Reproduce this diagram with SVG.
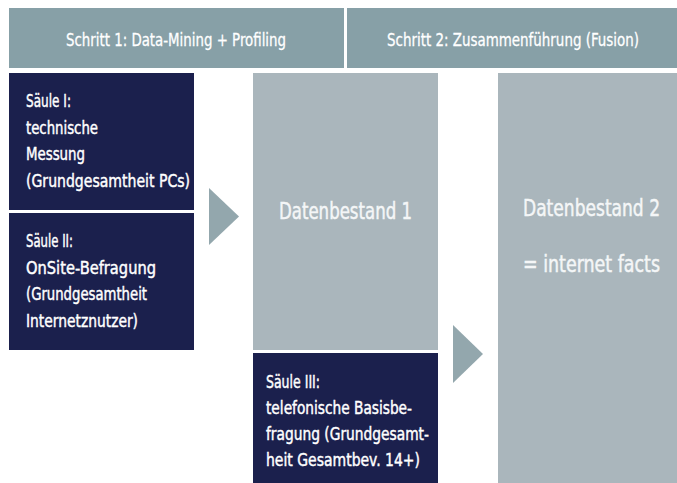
<svg xmlns="http://www.w3.org/2000/svg" width="677" height="483" viewBox="0 0 677 483">
  <style>
    .head { fill: #87a0a7; }
    .pillar { fill: #1b204d; }
    .store { fill: #aab6bc; }
    .arrow { fill: #93a7ad; }
    text { font-family: "DejaVu Sans Condensed", "DejaVu Sans", sans-serif; font-stretch: condensed; fill: #ffffff; stroke: #ffffff; paint-order: stroke; }
    .ht { font-size: 18.5px; stroke-width: 0.3px; }
    .pt { font-size: 18.5px; stroke-width: 0.45px; }
    .st { font-size: 22.5px; fill: #f4f6f7; stroke: #f4f6f7; stroke-width: 0.45px; }
  </style>

  <!-- step headers -->
  <g id="step1">
    <rect class="head" x="9" y="8" width="335" height="60"/>
    <text class="ht" x="66" y="46" textLength="220" lengthAdjust="spacingAndGlyphs">Schritt 1: Data-Mining + Profiling</text>
  </g>
  <g id="step2">
    <rect class="head" x="347" y="8" width="330" height="60"/>
    <text class="ht" transform="matrix(0.85,0,0,1,387,46)" x="0" y="0" textLength="296.5" lengthAdjust="spacingAndGlyphs">Schritt 2: Zusammenführung (Fusion)</text>
  </g>

  <!-- pillar I -->
  <g id="saeule1">
    <rect class="pillar" x="9" y="73" width="185" height="137"/>
    <text class="pt" x="26" y="107" textLength="45" lengthAdjust="spacingAndGlyphs">Säule I:</text>
    <text class="pt" x="26" y="133.5" textLength="72" lengthAdjust="spacingAndGlyphs">technische</text>
    <text class="pt" x="26" y="160" textLength="59" lengthAdjust="spacingAndGlyphs">Messung</text>
    <text class="pt" x="26" y="186.5" textLength="164" lengthAdjust="spacingAndGlyphs">(Grundgesamtheit PCs)</text>
  </g>

  <!-- pillar II -->
  <g id="saeule2">
    <rect class="pillar" x="9" y="213" width="185" height="137"/>
    <text class="pt" x="26" y="247" textLength="47" lengthAdjust="spacingAndGlyphs">Säule II:</text>
    <text class="pt" x="26" y="273.5" textLength="130" lengthAdjust="spacingAndGlyphs">OnSite-Befragung</text>
    <text class="pt" x="26" y="300" textLength="121" lengthAdjust="spacingAndGlyphs">(Grundgesamtheit</text>
    <text class="pt" x="26" y="326.5" textLength="112" lengthAdjust="spacingAndGlyphs">Internetznutzer)</text>
  </g>

  <!-- data set 1 -->
  <g id="datenbestand1">
    <rect class="store" x="253" y="73" width="185" height="277"/>
    <text class="st" x="279" y="219" textLength="133" lengthAdjust="spacingAndGlyphs">Datenbestand 1</text>
  </g>

  <!-- pillar III -->
  <g id="saeule3">
    <rect class="pillar" x="253" y="353" width="185" height="130"/>
    <text class="pt" x="266" y="387.5" textLength="54" lengthAdjust="spacingAndGlyphs">Säule III:</text>
    <text class="pt" x="266" y="413.5" textLength="146" lengthAdjust="spacingAndGlyphs">telefonische Basisbe-</text>
    <text class="pt" x="266" y="440" textLength="163" lengthAdjust="spacingAndGlyphs">fragung (Grundgesamt-</text>
    <text class="pt" x="266" y="466" textLength="154" lengthAdjust="spacingAndGlyphs">heit Gesamtbev. 14+)</text>
  </g>

  <!-- data set 2 (condensed horizontally so the run fits the column) -->
  <g id="datenbestand2">
    <rect class="store" x="498" y="73" width="179" height="410"/>
    <text class="st" transform="matrix(0.86,0,0,1,523,216)" x="0" y="0" textLength="159.3" lengthAdjust="spacingAndGlyphs">Datenbestand 2</text>
    <text class="st" transform="matrix(0.86,0,0,1,523,272)" x="0" y="0" textLength="159.3" lengthAdjust="spacingAndGlyphs">= internet facts</text>
  </g>

  <!-- flow arrows -->
  <g id="connectors">
    <polygon class="arrow" points="209,188 239,216.5 209,245"/>
    <polygon class="arrow" points="453,325 483,354 453,383"/>
  </g>
</svg>
